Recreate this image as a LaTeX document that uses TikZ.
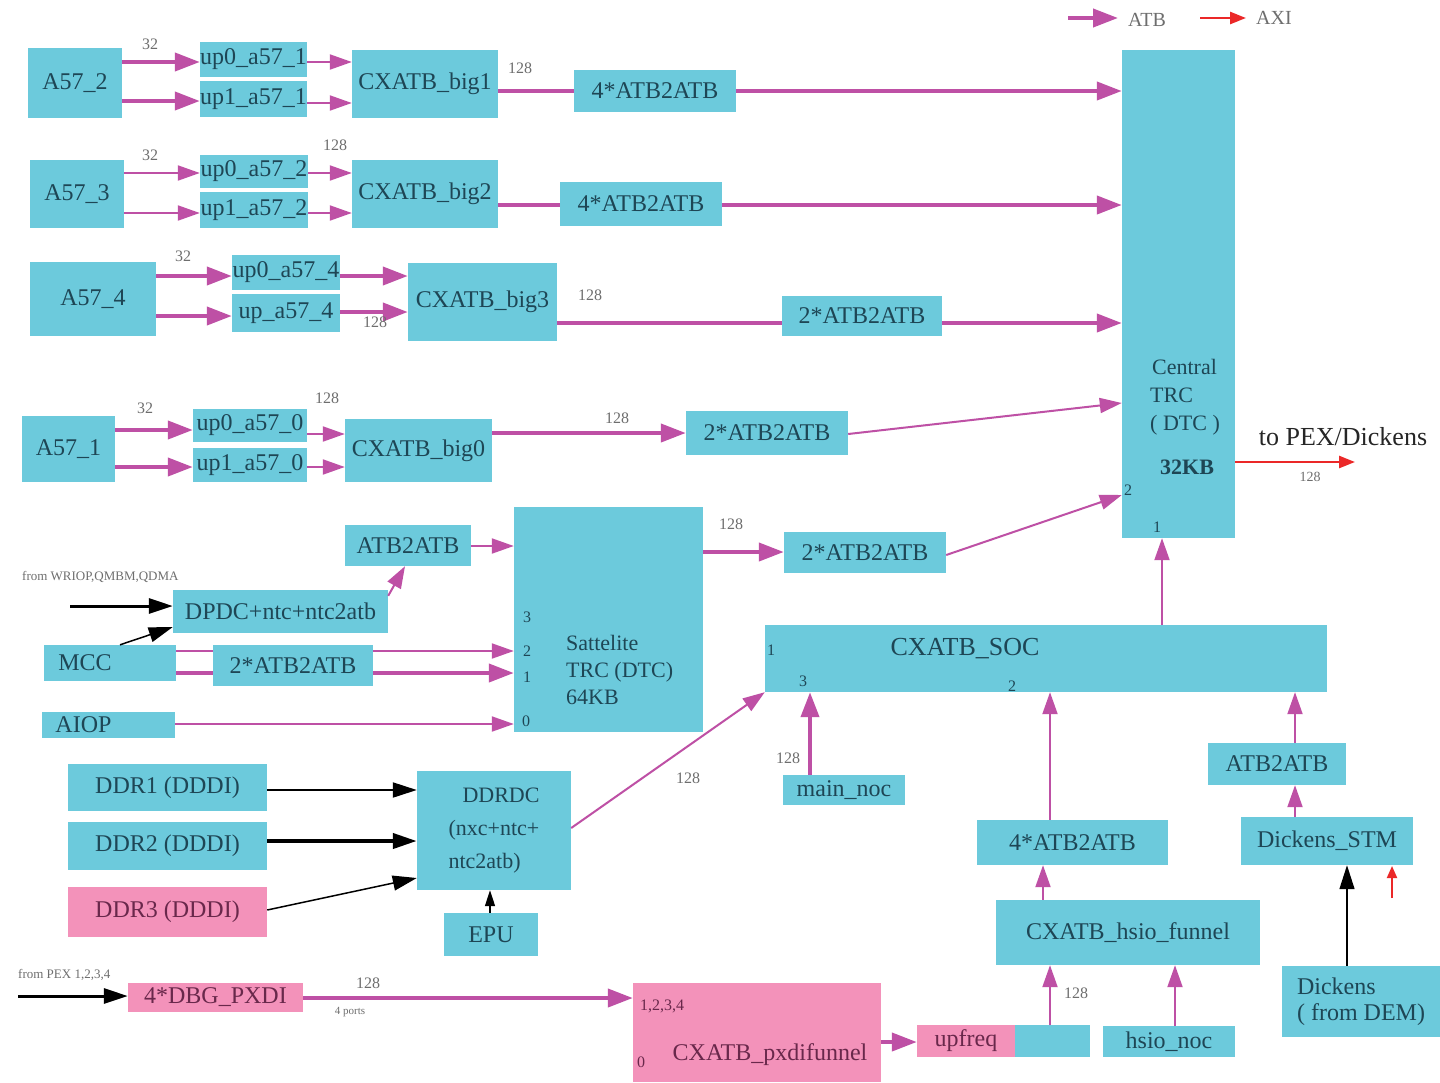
\documentclass[tikz,border=0pt]{standalone}
\usepackage{fontspec}
\setmainfont{Liberation Serif}
\usetikzlibrary{arrows.meta,calc}
\definecolor{boxc}{RGB}{108,202,220}
\definecolor{pinkc}{RGB}{243,146,186}
\definecolor{magc}{RGB}{190,80,165}
\definecolor{txtc}{RGB}{30,70,85}
\definecolor{ptxt}{RGB}{105,40,75}
\definecolor{lblc}{RGB}{110,110,110}
\definecolor{redc}{RGB}{235,40,40}
\newcommand\bx[7]{\node[#1, minimum width={(#5-#3)*1pt}, minimum height={(#6-#4)*1pt}] (#2) at ({(#3+#5)/2},{(#4+#6)/2}) {#7};}
\begin{document}
\begin{tikzpicture}[x=1pt,y=-1pt,
 box/.style={fill=boxc, inner sep=0pt, text=txtc, font=\fontsize{24}{26}\selectfont},
 pbox/.style={box, fill=pinkc, text=ptxt},
 lbl/.style={text=lblc, font=\fontsize{16}{18}\selectfont, inner sep=0pt},
 port/.style={text=txtc, font=\fontsize{16}{18}\selectfont, inner sep=0pt},
 thk/.style={draw=magc, line width=4pt, -{Triangle[length=25pt,width=18pt]}},
 thn/.style={draw=magc, line width=2pt, -{Triangle[length=22pt,width=15pt]}},
 thkl/.style={draw=magc, line width=4pt},
 thnl/.style={draw=magc, line width=2pt},
 blk/.style={draw=black, line width=3pt, -{Triangle[length=24pt,width=15pt]}},
 blkt/.style={draw=black, line width=1.5pt, -{Triangle[length=24pt,width=15pt]}},
 axi/.style={draw=redc, line width=2.5pt, -{Triangle[length=16pt,width=12pt]}},
]
\fill[white] (0,0) rectangle (1440,1082);
\useasboundingbox (0,0) rectangle (1440,1082);

% legend
\coordinate (lg1) at (1068,18); \coordinate (lg2) at (1118,18);
\coordinate (lg3) at (1200,18); \coordinate (lg4) at (1246,18);
\draw[thk] (lg1) -- (lg2);
\draw[axi] (lg3) -- (lg4);
\node[text=lblc, font=\fontsize{20}{22}\selectfont, anchor=west, inner sep=0pt] (latb) at (1128,20) {ATB};
\node[text=lblc, font=\fontsize{20}{22}\selectfont, anchor=west, inner sep=0pt] (laxi) at (1256,18) {AXI};

% central TRC
\bx{box}{ctr}{1122}{50}{1235}{538}{}
\node[text=txtc, font=\fontsize{22}{28}\selectfont, align=left, inner sep=0pt] (ctrt) at (1185,417)
 {\hspace*{2pt}Central\\TRC\\( DTC )\\[16pt]\hspace*{10pt}\textbf{32KB}};

% row 1
\bx{box}{a2}{28}{48}{122}{118}{A57\_2}
\bx{box}{u01}{200}{42}{307}{77}{up0\_a57\_1}
\bx{box}{u11}{200}{81}{307}{117}{up1\_a57\_1}
\bx{box}{b1}{352}{50}{498}{118}{CXATB\_big1}
\bx{box}{q1}{574}{70}{736}{112}{4*ATB2ATB}
\draw[thk] (a2.east |- 0,62) -- (u01.west |- 0,62);
\draw[thk] (a2.east |- 0,101) -- (u11.west |- 0,101);
\draw[thn] (u01.east |- 0,62) -- (b1.west |- 0,62);
\draw[thn] (u11.east |- 0,103) -- (b1.west |- 0,103);
\draw[thkl] (b1.east |- 0,91) -- (q1.west |- 0,91);
\draw[thk] (q1.east |- 0,91) -- (ctr.west |- 0,91);
\node[lbl] (l1) at (150,44) {32};
\node[lbl] (l2) at (520,68) {128};

% row 2
\bx{box}{a3}{30}{160}{124}{228}{A57\_3}
\bx{box}{u02}{200}{155}{308}{188}{up0\_a57\_2}
\bx{box}{u12}{200}{192}{308}{228}{up1\_a57\_2}
\bx{box}{b2}{352}{160}{498}{228}{CXATB\_big2}
\bx{box}{q2}{560}{182}{722}{226}{4*ATB2ATB}
\draw[thn] (a3.east |- 0,173) -- (u02.west |- 0,173);
\draw[thn] (a3.east |- 0,213) -- (u12.west |- 0,213);
\draw[thn] (u02.east |- 0,173) -- (b2.west |- 0,173);
\draw[thn] (u12.east |- 0,213) -- (b2.west |- 0,213);
\draw[thkl] (b2.east |- 0,205) -- (q2.west |- 0,205);
\draw[thk] (q2.east |- 0,205) -- (ctr.west |- 0,205);
\node[lbl] (l3) at (150,155) {32};
\node[lbl] (l4) at (335,145) {128};

% row 3
\bx{box}{a4}{30}{262}{156}{336}{A57\_4}
\bx{box}{u04}{232}{255}{340}{290}{up0\_a57\_4}
\bx{box}{u4}{232}{294}{340}{332}{up\_a57\_4}
\bx{box}{b3}{408}{263}{557}{341}{CXATB\_big3}
\bx{box}{d3}{782}{296}{942}{336}{2*ATB2ATB}
\draw[thk] (a4.east |- 0,276) -- (u04.west |- 0,276);
\draw[thk] (a4.east |- 0,316) -- (u4.west |- 0,316);
\draw[thk] (u04.east |- 0,276) -- (b3.west |- 0,276);
\draw[thk] (u4.east |- 0,312) -- (b3.west |- 0,312);
\draw[thkl] (b3.east |- 0,323) -- (d3.west |- 0,323);
\draw[thk] (d3.east |- 0,323) -- (ctr.west |- 0,323);
\node[lbl] (l5) at (183,256) {32};
\node[lbl] (l6) at (375,322) {128};
\node[lbl] (l7) at (590,295) {128};

% row 4
\bx{box}{a1}{22}{416}{115}{482}{A57\_1}
\bx{box}{u00}{193}{409}{307}{442}{up0\_a57\_0}
\bx{box}{u10}{193}{448}{307}{482}{up1\_a57\_0}
\bx{box}{b0}{345}{419}{492}{482}{CXATB\_big0}
\bx{box}{d4}{686}{411}{848}{455}{2*ATB2ATB}
\draw[thk] (a1.east |- 0,430) -- (u00.west |- 0,430);
\draw[thk] (a1.east |- 0,467) -- (u10.west |- 0,467);
\draw[thn] (u00.east |- 0,434) -- (b0.west |- 0,434);
\draw[thn] (u10.east |- 0,467) -- (b0.west |- 0,467);
\draw[thk] (b0.east |- 0,433) -- (d4.west |- 0,433);
\draw[thn] (d4.east |- 0,434) -- (ctr.west |- 0,403);
\node[lbl] (l8) at (145,408) {32};
\node[lbl] (l9) at (327,398) {128};
\node[lbl] (l10) at (617,418) {128};

% middle
\bx{box}{atb2}{345}{525}{471}{566}{ATB2ATB}
\bx{box}{sat}{514}{507}{703}{732}{}
\node[text=txtc, font=\fontsize{22}{27}\selectfont, align=left, anchor=west, inner sep=0pt] (satt) at (566,670) {Sattelite\\TRC (DTC)\\64KB};
\bx{box}{d5}{784}{532}{946}{573}{2*ATB2ATB}
\bx{box}{dpdc}{173}{590}{388}{633}{DPDC+ntc+ntc2atb}
\bx{box}{mcc}{44}{645}{176}{681}{MCC\hspace*{50pt}}
\bx{box}{d6}{213}{645}{373}{686}{2*ATB2ATB}
\bx{box}{aiop}{42}{712}{175}{738}{AIOP\hspace*{50pt}}
\bx{box}{soc}{765}{625}{1327}{692}{}
\node[text=txtc, font=\fontsize{26}{28}\selectfont, inner sep=0pt] (soct) at (965,649) {CXATB\_SOC};

\node[lbl, font=\fontsize{13}{15}\selectfont, anchor=west] (wri) at (22,577) {from WRIOP,QMBM,QDMA};
\coordinate (wrs) at (70,606);
\draw[blk] (wrs) -- (dpdc.west |- 0,606);
\draw[blkt] (mcc.north -| 120,0) -- (dpdc.west |- 0,627);
\draw[thn] (dpdc.north east) ++(0,6) -- (atb2.south -| 405,0);
\draw[thn] (atb2.east |- 0,546) -- (sat.west |- 0,546);
\draw[thnl] (mcc.east |- 0,651) -- (d6.west |- 0,651);
\draw[thkl] (mcc.east |- 0,673) -- (d6.west |- 0,673);
\draw[thn] (d6.east |- 0,651) -- (sat.west |- 0,651);
\draw[thk] (d6.east |- 0,673) -- (sat.west |- 0,673);
\draw[thn] (aiop.east |- 0,724) -- (sat.west |- 0,724);
\draw[thk] (sat.east |- 0,552) -- (d5.west |- 0,552);
\draw[thn] (d5.east |- 0,555) -- (ctr.west |- 0,495);
\draw[thn] (soc.north -| 1162,0) -- (ctr.south -| 1162,0);
\node[lbl] (l11) at (731,524) {128};
\node[port] (p3) at (527,617) {3};
\node[port] (p2) at (527,651) {2};
\node[port] (p1) at (527,677) {1};
\node[port] (p0) at (526,721) {0};
\node[port] (c2) at (1128,490) {2};
\node[port] (c1) at (1157,527) {1};
\node[port] (s1) at (771,650) {1};
\node[port] (s3) at (803,681) {3};
\node[port] (s2) at (1012,686) {2};

% to PEX
\coordinate (pexe) at (1355,462);
\draw[axi] (ctr.east |- 0,462) -- (pexe);
\node[text=black!85, font=\fontsize{26}{28}\selectfont, inner sep=0pt] (topex) at (1343,437) {to PEX/Dickens};
\node[lbl, font=\fontsize{14}{16}\selectfont] (l12) at (1310,477) {128};

% right-bottom cluster
\bx{box}{mnoc}{783}{775}{905}{805}{main\_noc}
\bx{box}{atb3}{1208}{743}{1346}{785}{ATB2ATB}
\bx{box}{stm}{1241}{817}{1413}{865}{Dickens\_STM}
\bx{box}{q7}{977}{820}{1168}{865}{4*ATB2ATB}
\bx{box}{hf}{996}{900}{1260}{965}{CXATB\_hsio\_funnel}
\bx{pbox}{upf}{917}{1025}{1015}{1057}{upfreq}
\bx{box}{upc}{1015}{1025}{1090}{1057}{}
\bx{box}{hnoc}{1103}{1026}{1235}{1057}{hsio\_noc}
\node[box, minimum width=158pt, minimum height=71pt, align=left] (dem) at (1361,1001.5) {Dickens\\( from DEM)};
\draw[thk] (mnoc.north -| 810,0) -- (soc.south -| 810,0);
\draw[thn] (q7.north -| 1050,0) -- (soc.south -| 1050,0);
\draw[thn] (atb3.north -| 1295,0) -- (soc.south -| 1295,0);
\draw[thn] (stm.north -| 1295,0) -- (atb3.south -| 1295,0);
\draw[thn] (hf.north -| 1043,0) -- (q7.south -| 1043,0);
\draw[thn] (upc.north -| 1050,0) -- (hf.south -| 1050,0);
\draw[thn] (hnoc.north -| 1175,0) -- (hf.south -| 1175,0);
\draw[blkt] (dem.north -| 1347,0) -- (stm.south -| 1347,0);
\coordinate (ra1) at (1392,898); \coordinate (ra2) at (1392,866);
\draw[draw=redc, line width=2pt, -{Triangle[length=12pt,width=10pt]}] (ra1) -- (ra2);
\node[lbl] (l13) at (788,758) {128};
\node[lbl] (l14) at (1076,993) {128};

% bottom-left
\bx{box}{ddr1}{68}{764}{267}{811}{DDR1 (DDDI)}
\bx{box}{ddr2}{68}{822}{267}{870}{DDR2 (DDDI)}
\bx{pbox}{ddr3}{68}{887}{267}{937}{DDR3 (DDDI)}
\node[box, minimum width=154pt, minimum height=119pt, align=left, font=\fontsize{22}{33}\selectfont] (ddrdc) at (494,830.5)
 {\hspace*{14pt}DDRDC\\(nxc+ntc+\\ntc2atb)};
\bx{box}{epu}{444}{913}{538}{956}{EPU}
\draw[blk, line width=2pt] (ddr1.east |- 0,790) -- (ddrdc.west |- 0,790);
\draw[blk, line width=4pt] (ddr2.east |- 0,841) -- (ddrdc.west |- 0,841);
\draw[blkt] (ddr3.east |- 0,910) -- (ddrdc.west |- 0,878);
\draw[blkt, -{Triangle[length=16pt,width=10pt]}] (epu.north -| 490,0) -- (ddrdc.south -| 490,0);
\draw[thn] (ddrdc.east |- 0,828) -- (soc.south west);
\node[lbl] (l15) at (688,778) {128};

\bx{pbox}{dbg}{128}{983}{303}{1012}{4*DBG\_PXDI}
\node[pbox, minimum width=248pt, minimum height=99pt] (pxd) at (757,1032.5) {};
\node[text=ptxt, font=\fontsize{24}{26}\selectfont, inner sep=0pt] (pxdt) at (770,1055) {CXATB\_pxdifunnel};
\node[text=ptxt, font=\fontsize{16}{18}\selectfont, inner sep=0pt] (pxd1) at (662,1006) {1,2,3,4};
\node[text=ptxt, font=\fontsize{16}{18}\selectfont, inner sep=0pt] (pxd0) at (641,1062) {0};
\node[lbl, font=\fontsize{13}{15}\selectfont, anchor=west] (frp) at (18,975) {from PEX 1,2,3,4};
\coordinate (pxs) at (18,996);
\draw[blk] (pxs) -- (dbg.west |- 0,996);
\draw[thk] (dbg.east |- 0,998) -- (pxd.west |- 0,998);
\draw[thk] (pxd.east |- 0,1042) -- (upf.west |- 0,1042);
\node[lbl] (l16) at (368,983) {128};
\node[lbl, font=\fontsize{11}{13}\selectfont] (l17) at (350,1012) {4 ports};
\end{tikzpicture}
\end{document}
